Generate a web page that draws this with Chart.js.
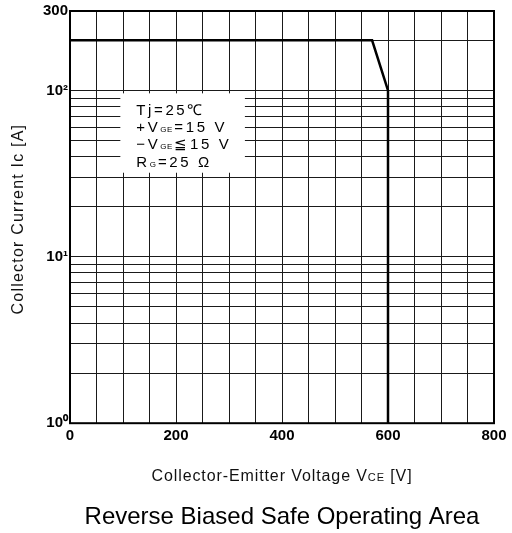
<!DOCTYPE html>
<html><head><meta charset="utf-8">
<script src="https://cdn.jsdelivr.net/npm/chart.js@4"></script>
<style>html,body{margin:0;padding:0;background:#fff}#wrap{width:512px;height:533px;position:relative}</style>
</head><body><div id="wrap"><canvas id="c"></canvas></div>
<script>
// ---- data ----
const voltage = [0, 570, 600, 600];
const current = [200, 200, 100, 1];
const xGridValues = [0,50,100,150,200,250,300,350,400,450,500,550,600,650,700,750,800];
const xLabelValues = [0,200,400,600,800];
const yGridValues = [1,2,3,4,5,6,7,8,9,10,20,30,40,50,60,70,80,90,100,200,300];
const yLabelMap = {1:'10⁰', 10:'10¹', 100:'10²', 300:'300'};
const yTitleRuns = [['Collector Current I', false], ['c', false], [' [A]', false]];
const xTitleRuns = [['Collector-Emitter Voltage V', false], ['CE', true], [' [V]', false]];
const chartTitle = 'Reverse Biased Safe Operating Area';
const conditionLines = [
  [['Tj=25℃', false]],
  [['+V', false], ['GE', true], ['=15 V', false]],
  [['−V', false], ['GE', true], ['≦15 V', false]],
  [['R', false], ['G', true], ['=25 Ω', false]]
];
const FONT = '"Liberation Sans", Arial, sans-serif';

function runsWidth(ctx, runs, big, small, sp) {
  let w = 0;
  runs.forEach(([t, sub]) => {
    ctx.font = (sub ? small : big) + 'px ' + FONT;
    ctx.letterSpacing = sp + 'px';
    w += ctx.measureText(t).width;
  });
  return w;
}
function drawRuns(ctx, runs, x0, by, big, small, sp) {
  let cx = x0;
  runs.forEach(([t, sub]) => {
    ctx.font = (sub ? small : big) + 'px ' + FONT;
    ctx.letterSpacing = sp + 'px';
    ctx.fillText(t, cx, by);
    cx += ctx.measureText(t).width;
  });
  ctx.letterSpacing = '0px';
}

const decor = {
  id: 'decor',
  beforeDatasetsDraw(chart) {
    const {ctx, scales: {x, y}} = chart;
    const bl = x.getPixelForValue(95), br = x.getPixelForValue(330);
    const bt = y.getPixelForValue(96), bb = y.getPixelForValue(32);
    ctx.save();
    ctx.fillStyle = '#fff';
    ctx.fillRect(bl, bt, br - bl, bb - bt);
    ctx.fillStyle = '#000';
    ctx.textBaseline = 'alphabetic';
    ctx.textAlign = 'left';
    const tx = bl + 16;
    conditionLines.forEach((runs, i) => {
      const by = bt + 21.5 + i * 17.3;
      let cx = tx;
      runs.forEach(([t, sub]) => {
        ctx.font = (sub ? '8px ' : '15px ') + FONT;
        ctx.letterSpacing = sub ? '0.5px' : '2.6px';
        ctx.fillText(t, cx, by);
        cx += ctx.measureText(t).width + (sub ? 1.5 : 0);
      });
    });
    ctx.letterSpacing = '0px';
    ctx.restore();
  },
  afterDraw(chart) {
    const {ctx, chartArea: a} = chart;
    ctx.save();
    ctx.strokeStyle = '#000';
    ctx.lineWidth = 2;
    ctx.strokeRect(a.left, a.top, a.right - a.left, a.bottom - a.top);
    ctx.fillStyle = '#111';
    ctx.textBaseline = 'alphabetic';
    ctx.textAlign = 'left';
    // x title
    const xw = runsWidth(ctx, xTitleRuns, 16, 11, 0.9);
    drawRuns(ctx, xTitleRuns, (a.left + a.right) / 2 - xw / 2, 480.5, 16, 11, 0.9);
    // y title (rotated)
    const yw = runsWidth(ctx, yTitleRuns, 16, 16, 1.2);
    ctx.translate(23, (a.top + a.bottom) / 2 + 2);
    ctx.rotate(-Math.PI / 2);
    drawRuns(ctx, yTitleRuns, -yw / 2, 0, 16, 16, 1.2);
    ctx.restore();
  }
};

new Chart(document.getElementById('c'), {
  type: 'line',
  data: {
    datasets: [{
      data: voltage.map((v, i) => ({x: v, y: current[i]})),
      borderColor: '#000',
      borderWidth: 2.5,
      pointRadius: 0,
      tension: 0,
      fill: false
    }]
  },
  options: {
    responsive: true,
    maintainAspectRatio: false,
    animation: false,
    layout: {padding: {top: 11, right: 18, left: 0, bottom: 0}},
    plugins: {
      legend: {display: false},
      tooltip: {enabled: false},
      title: {
        display: true, position: 'bottom', fullSize: false,
        text: chartTitle, color: '#000',
        font: {family: FONT, size: 24, weight: 'normal'},
        padding: {top: 0, bottom: 1}
      }
    },
    scales: {
      x: {
        type: 'linear', min: 0, max: 800,
        afterBuildTicks(s) { s.ticks = xGridValues.map(v => ({value: v})); },
        afterFit(s) { s.height = 80; },
        ticks: {
          autoSkip: false, maxRotation: 0, padding: 4, color: '#000',
          font: {family: FONT, size: 15, weight: 'bold'},
          callback: v => xLabelValues.includes(v) ? String(v) : ''
        },
        grid: {color: '#1a1a1a', lineWidth: 1, drawTicks: false},
        border: {display: false}
      },
      y: {
        type: 'logarithmic', min: 1, max: 300,
        afterBuildTicks(s) { s.ticks = yGridValues.map(v => ({value: v})); },
        afterFit(s) { s.width = 70; },
        ticks: {
          autoSkip: false, padding: 2, color: '#000',
          font: {family: FONT, size: 15, weight: 'bold'},
          callback: v => yLabelMap[v] || ''
        },
        grid: {color: '#1a1a1a', lineWidth: 1, drawTicks: false},
        border: {display: false}
      }
    }
  },
  plugins: [decor]
});
</script>
</body></html>
